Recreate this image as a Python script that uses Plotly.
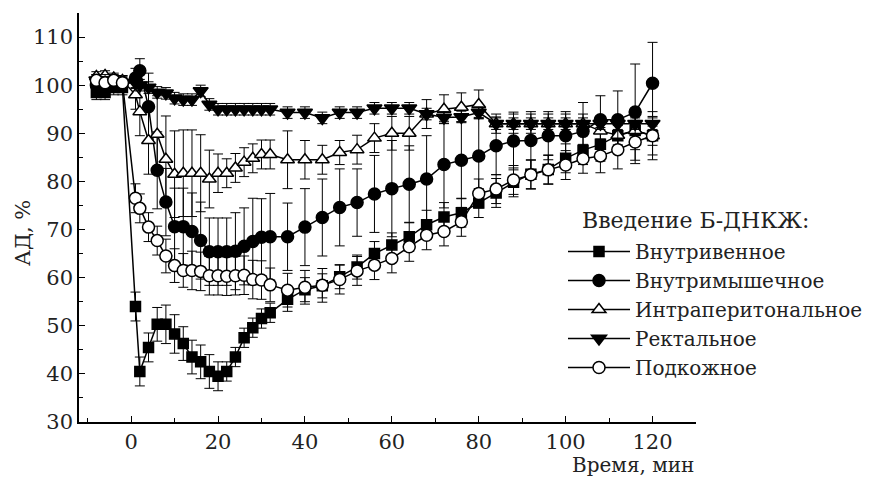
import plotly.graph_objects as go

T = [-8, -6, -4, -2, 1, 2, 4, 6, 8, 10, 12, 14, 16, 18, 20, 22, 24, 26, 28, 30, 32,
     36, 40, 44, 48, 52, 56, 60, 64, 68, 72, 76, 80, 84, 88, 92, 96, 100, 104, 108, 112, 116, 120]

iv = [98.5, 98.5, 99.5, 99.5, 54, 40.5, 45.5, 50.3, 50.3, 48.3, 46.3, 43.5, 42.5, 40.5, 39.5, 40.5, 43.5, 47.5, 49.6, 51.5, 52.7,
      55.5, 57.5, 58.3, 60.2, 62.2, 65, 66.8, 68.5, 71, 72.6, 73.5, 75.5, 77.6, 79.8, 81.5, 82.5, 84.8, 86.5, 87.7, 89.5, 90.6, 89.5]
iv_err = [1.5, 1.5, 1.5, 1.5, 3, 3, 3, 3.5, 4, 4, 3.5, 3.5, 3.5, 3.5, 3, 2, 2, 2, 2, 2, 2,
          2.5, 2.5, 2.5, 2.5, 2.5, 2.5, 2.5, 3, 3, 3, 3, 3, 3, 3, 3, 3, 3, 3, 3.5, 3.5, 4, 4]

im = [100, 100.5, 100, 100.5, 101.5, 103, 95.5, 82.3, 75.7, 70.6, 70.6, 69.6, 67.7, 65.4, 65.4, 65.4, 65.5, 66.5, 67.5, 68.4, 68.5,
      68.5, 70.5, 72.5, 74.6, 75.6, 77.4, 78.5, 79.4, 80.5, 83.5, 84.4, 85.3, 87.4, 88.4, 88.5, 89.5, 89.5, 90.4, 92.8, 92.8, 94.4, 100.4]
im_err = [1.5, 1.5, 1.5, 1.5, 2, 2.5, 7, 8, 7, 8, 8, 8, 8, 7, 7, 7, 8, 8, 9, 8, 9,
          7, 8, 8, 8, 7, 8, 10, 8, 9, 9, 8, 8, 6, 6, 6, 5, 5, 6, 5, 6, 10, 8.5]

ip = [101.8, 102, 101.5, 101, 98, 94.5, 88.5, 89.8, 84.6, 81.5, 81.7, 81.7, 81.7, 80.5, 81.7, 81.7, 82.8, 84, 84.8, 85.6, 85.6,
      84.5, 84.5, 84.5, 86, 86.6, 89, 90, 90, 94, 95, 95.4, 96, 92, 92, 92, 92, 92, 92, 90.5, 89.6, 90.6, 89.5]
ip_err = [1, 1, 1, 1, 3, 5, 7, 8, 9, 9, 9, 9, 8, 6, 4, 3, 3, 3, 3, 3, 3,
          6, 4, 3, 2.5, 3, 3, 3.5, 3.5, 3, 3, 3, 3, 2, 2, 2, 2, 2, 2, 2, 2, 2, 2]

rc = [101, 101, 100.5, 100.5, 100.5, 100, 99.5, 98.5, 98.3, 97.3, 97, 97, 98.8, 96, 95, 95, 95, 95, 95, 95, 95,
      94.3, 94.3, 93.2, 94.3, 94.3, 95.2, 95.2, 95.2, 94, 93.3, 93.4, 94.3, 92, 92, 92, 92, 92, 92, 92, 92, 92, 92]
rc_err = [1.2] * 43

sc = [101, 100.5, 101, 100.5, 76.5, 74.4, 70.5, 67.7, 64.5, 62.5, 61.5, 61.5, 61.3, 60.4, 60.4, 60.3, 60.4, 60.5, 59.6, 59.5, 58.5,
      57.4, 58, 58.4, 59.6, 61.4, 62.6, 64, 66.4, 68.8, 69.6, 71.6, 77.5, 78.4, 80.3, 81.4, 82.4, 83.4, 84.7, 85.3, 86.6, 88.2, 89.5]
sc_err = [1.2, 1.2, 1.2, 1.2, 3, 3, 3, 3, 3.5, 3.5, 3.5, 4, 4, 4, 4, 4, 4, 4, 4, 4, 3.5,
          3.5, 3.5, 3.5, 3, 3, 3, 3, 3, 3, 3, 3, 3, 3, 3, 3, 3, 3, 3, 3.5, 4, 4.5, 5]

names = ["Внутривенное", "Внутримышечное", "Интраперитональное", "Ректальное", "Подкожное"]
series = [iv, im, ip, rc, sc]
errs = [iv_err, im_err, ip_err, rc_err, sc_err]
symbols = ["square", "circle", "triangle-up", "triangle-down", "circle"]
fills = ["black", "black", "white", "black", "white"]
sizes = [10, 12, 12, 13, 12]

FONT = "DejaVu Serif"
fig = go.Figure()
for name, y, e, sym, fc, sz in zip(names, series, errs, symbols, fills, sizes):
    fig.add_trace(go.Scatter(
        x=T, y=y, name=name, mode="lines+markers",
        line=dict(color="black", width=1.5),
        marker=dict(symbol=sym, size=sz, color=fc,
                    line=dict(color="black", width=1.5)),
        error_y=dict(type="data", array=e, color="black", thickness=1, width=5),
    ))

fig.update_layout(
    width=881, height=477,
    margin=dict(l=79, r=185, t=13, b=55),
    plot_bgcolor="white", paper_bgcolor="white",
    font=dict(family=FONT, size=20, color="#222"),
    showlegend=True,
    legend=dict(x=(563 - 79) / 617, y=(422 - 232) / 409, xanchor="left", yanchor="top",
                bgcolor="rgba(0,0,0,0)", font=dict(family=FONT, size=20, color="#222"),
                tracegroupgap=0, itemsizing="trace", itemwidth=62),
    xaxis=dict(range=[-12, 130], tickmode="linear", tick0=0, dtick=20,
               ticks="inside", ticklen=6, tickwidth=1.3, tickcolor="black",
               showline=True, linecolor="black", linewidth=1.5,
               showgrid=False, zeroline=False,
               minor=dict(dtick=10, tick0=0, ticks="inside", ticklen=4, tickcolor="black"),
               tickfont=dict(family=FONT, size=21, color="#222")),
    yaxis=dict(range=[30, 115], tickmode="linear", tick0=30, dtick=10,
               ticks="inside", ticklen=6, tickwidth=1.3, tickcolor="black",
               showline=True, linecolor="black", linewidth=1.5,
               showgrid=False, zeroline=False,
               minor=dict(dtick=5, tick0=30, ticks="inside", ticklen=4, tickcolor="black"),
               tickfont=dict(family=FONT, size=21, color="#222")),
    annotations=[
        dict(text="Введение Б-ДНКЖ:", xref="paper", yref="paper",
             x=(580 - 79) / 617, y=(422 - 220) / 409, xanchor="left", yanchor="middle",
             showarrow=False, font=dict(family=FONT, size=22, color="#222")),
        dict(text="Время, мин", xref="paper", yref="paper",
             x=1.0, y=(422 - 465) / 409, xanchor="right", yanchor="middle",
             showarrow=False, font=dict(family=FONT, size=20, color="#222")),
        dict(text="АД, %", xref="paper", yref="paper", textangle=-90,
             x=(23 - 79) / 617, y=(422 - 233) / 409, xanchor="center", yanchor="middle",
             showarrow=False, font=dict(family=FONT, size=21, color="#222")),
    ],
)

fig.write_html("out.html")
